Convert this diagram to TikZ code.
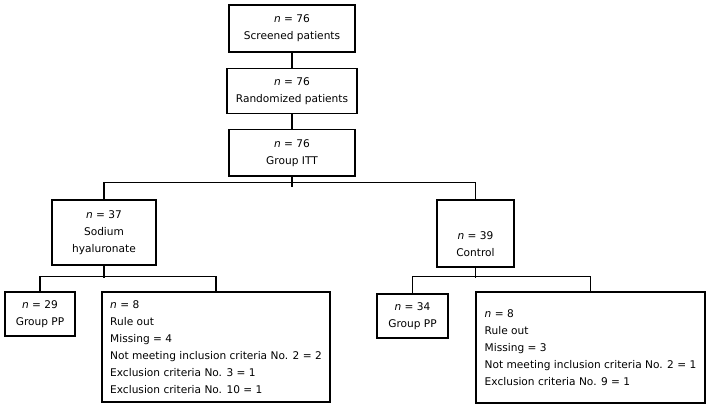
\documentclass[tikz,border=0pt]{standalone}
\usepackage{fontspec}
\setmainfont{DejaVu Sans}
\usetikzlibrary{positioning}

\begin{document}
\begin{tikzpicture}[x=1pt,y=-1pt,
    font=\fontsize{10.6}{17}\selectfont,
    box/.style={draw,line width=1.4pt,inner sep=0pt,align=center},
    list/.style={draw,line width=1.4pt,inner sep=0pt,align=left},
    link/.style={line width=1.4pt}]
      \useasboundingbox (0,0) rectangle (709,409);
      \node[box,minimum width=126pt,minimum height=47pt] (scr) at (292,28.5) {\textit{n} = 76\\Screened patients};
      \node[box,below=15pt of scr,minimum width=130pt,minimum height=45pt] (rnd) {\textit{n} = 76\\Randomized patients};
      \node[box,below=15pt of rnd,minimum width=126pt,minimum height=46pt] (itt) {\textit{n} = 76\\Group ITT};
      \node[box,minimum width=104pt,minimum height=65pt] (sod) at (104,232.5) {\textit{n} = 37\\Sodium\\hyaluronate};
      \node[box,minimum width=77pt,minimum height=67pt] (ctl) at (475.5,233.5) {\rule{0pt}{30pt}\textit{n} = 39\hspace{7pt}\\Control\hspace{7pt}};
      \node[box,minimum width=70pt,minimum height=44pt] (pp1) at (40,314) {\textit{n} = 29\\Group PP};
      \node[list,minimum width=228pt,minimum height=110pt] (ro1) at (216,347) {\textit{n} = 8\\Rule out\\Missing = 4\\Not meeting inclusion criteria No. 2 = 2\\Exclusion criteria No. 3 = 1\\Exclusion criteria No. 10 = 1};
      \node[box,minimum width=71pt,minimum height=44pt] (pp2) at (412.5,316) {\textit{n} = 34\\Group PP};
      \node[list,minimum width=229pt,minimum height=111pt] (ro2) at (590.5,347.5) {\textit{n} = 8\\Rule out\\Missing = 3\\Not meeting inclusion criteria No. 2 = 1\\Exclusion criteria No. 9 = 1};

      \draw[link] (scr.south) -- (rnd.north);
      \draw[link] (rnd.south) -- (itt.north);
      \draw[link] (itt.south) -- ++(0,10);
      \draw[link] (sod.north) -- ++(0,-17) -| (ctl.north);
      \draw[link] (sod.south) -- ++(0,12);
      \draw[link] (pp1.north) -- ++(0,-15) -| (ro1.north);
      \draw[link] (ctl.south) -- ++(0,10);
      \draw[link] (pp2.north) -- ++(0,-17) -| (ro2.north);
\end{tikzpicture}
\end{document}
